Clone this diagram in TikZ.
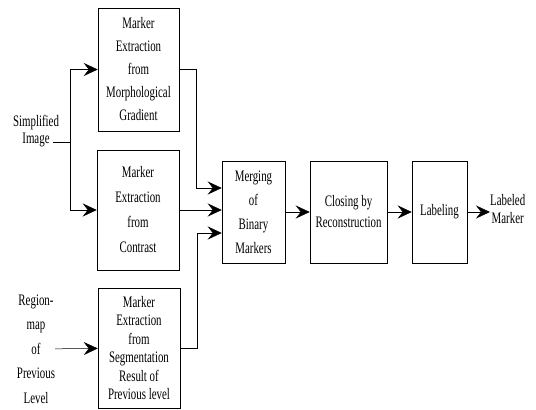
\documentclass[tikz,border=0pt]{standalone}
\usepackage{fontspec}
\setmainfont{Liberation Serif}[FakeStretch=0.68]
\usetikzlibrary{arrows.meta}

\newcommand{\boxfont}[1]{\fontsize{16}{#1}\selectfont}

\tikzset{
  blk/.style 2 args={draw, line width=0.5pt, minimum width=#1, minimum height=#2,
    inner sep=0pt, align=center, font=\boxfont{23}},
  lbl/.style={inner sep=0pt, align=center},
  arr/.style={line width=0.5pt, -{Stealth[length=14pt, width=13pt, inset=5pt]}}
}

\begin{document}
\begin{tikzpicture}[x=1pt, y=-1pt]
  \useasboundingbox (0,0) rectangle (536,410);

  % Marker extraction blocks
  \node[blk={81pt}{123pt}, font=\boxfont{23}] (grad) at (138.5,69.5)
    {Marker\\Extraction\\from\\Morphological\\Gradient};
  \node[blk={82pt}{120pt}, font=\boxfont{25}] (contr) at (138,210)
    {Marker\\Extraction\\from\\Contrast};
  \node[blk={82pt}{120pt}, font=\boxfont{18.5}] (seg) at (139,348)
    {Marker\\Extraction\\from\\Segmentation\\Result of\\Previous level};

  % Processing chain
  \node[blk={63pt}{102pt}, font=\boxfont{24}] (merge) at (253.5,212)
    {Merging\\of\\Binary\\Markers};
  \node[blk={77pt}{102pt}, font=\boxfont{21}] (closing) at (348.5,212)
    {Closing by\\Reconstruction};
  \node[blk={55pt}{102pt}] (label) at (439.5,212) {Labeling};

  % Inputs and output
  \node[lbl, font=\boxfont{17}] (simp) at (36,131) {Simplified\\Image};
  \node[lbl, font=\boxfont{24.5}] (region) at (36,349)
    {Region-\\map\\of\\Previous\\Level};
  \node[lbl, font=\boxfont{18}, anchor=west] (out) at (490,209) {Labeled\\Marker};

  % Split of the simplified image
  \coordinate (split) at (70,142);
  \draw[line width=0.5pt] ([xshift=-6pt]split -| simp.east) -- (split);
  \draw[arr] (split) |- (grad.west);
  \draw[arr] (split) |- (contr.west);
  \draw[arr] (region) -- (seg);

  % Into the merging block
  \draw[arr] (grad.east) -- ++(17,0) |- ([yshift=24pt]merge.west);
  \draw[arr] (contr.east) -- (contr.east -| merge.west);
  \draw[arr] (seg.east) -- ++(17,0) |- ([yshift=-21pt]merge.west);

  % Chain
  \draw[arr] (merge) -- (closing);
  \draw[arr] (closing) -- (label);
  \draw[arr] (label.east) -- (label.east -| out.west);
\end{tikzpicture}
\end{document}
